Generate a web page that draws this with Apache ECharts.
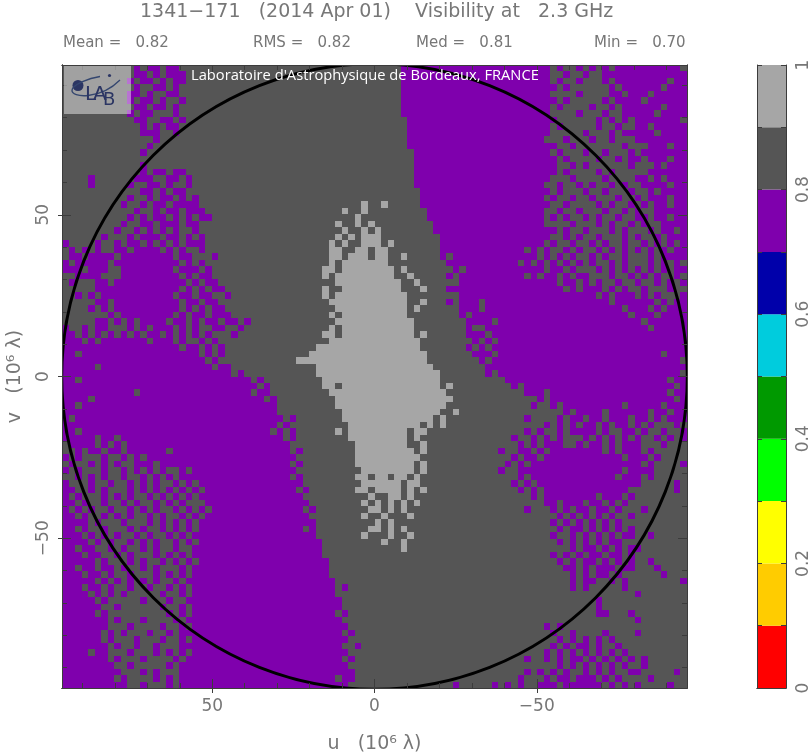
<!DOCTYPE html>
<html>
<head>
<meta charset="utf-8">
<style>html,body{margin:0;padding:0;background:#fff}#c{width:810px;height:756px}</style>
<script src="https://cdn.jsdelivr.net/npm/echarts@6/dist/echarts.min.js"></script>
</head>
<body>
<div id="c"></div>
<script>
// Visibility class per cell: p = 0.7-0.8, d = 0.8-0.9, l = 0.9-1
const visibilityRows = [
"dddddddd dddpdppd ppdddddd dddddddd dddddddd dddddddd ddddpppp pppppppp pppppppp pppdpddp dpdpdppp pppppppd",
"dddddddd dddppdpd pppddddd dddddddd dddddddd dddddddd ddddpppp pppppppp pppppppp pppddpdd pddppppp pppppppp",
"dddddddd ddpdppdp dppddddd dddddddd dddddddd dddddddd ddddpppp pppppppp pppppppp pppdpddp dddpdppp pppppdpp",
"dddddddd dddpddpp dpdddddd dddddddd dddddddd dddddddd ddddpppp pppppppp pppppppp ppppdpdd ddddpdpp ppppdppp",
"dddddddd ddppdpdd ppdddddd dddddddd dddddddd dddddddd ddddpppp pppppppp pppppppp pppddddp ddddppdp ppdppppp",
"dddddddd ddpdppdp ddpddddd dddddddd dddddddd dddddddd ddddpppp pppppppp pppppppp ppppdpdd dddpdppp pdpppppp",
"dddddddd dddppdpp dpdddddd dddddddd dddddddd dddddddd ddddpppp pppppppp pppppppp pppdpddd dpddpdpp ppppdppp",
"dddddddd ddpdppdd dpdddddd dddddddd dddddddd dddddddd ddddpppp pppppppp pppppppp pppddddp dddpddpp pppdpppp",
"dddddddd dddppddp pdpddddd dddddddd dddddddd dddddddd dddddppp pppppppp pppppppp ppppdddd ddpdpdpd pppppppd",
"dddddddd ddddpdpd ppdddddd dddddddd dddddddd dddddddd dddddppp pppppppp pppppppp pppdpddd ddpddpdd ppdppppp",
"dddddddd ddddpppd dpdddddd dddddddd dddddddd dddddddd dddddppp pppppppp pppppppp pppddddd pdddpdpp pppdpppp",
"dddddddd ddddddpd dddddddd dddddddd dddddddd dddddddd dddddppp pppppppp pppppppp ppdddpdd dpddpddd pppppppp",
"dddddddd dddddpdd dddddddd dddddddd dddddddd dddddddd dddddppp pppppppp pppppppp ppppddpd ddddddpd ddpppdpp",
"dddddddd ddddpddd dddddddd dddddddd dddddddd dddddddd ddddddpp pppppppp pppppppp pppdpddd pddpdddp dppppppp",
"dddddddd dddddddd dddddddd dddddddd dddddddd dddddddd ddddddpp pppppppp pppppppp ppppdpdd ddpddpdp pdpppdpp",
"dddddddd ddddpddd dddddddd dddddddd dddddddd dddddddd ddddddpp pppppppp pppppppp ppppddpd pddddddp dddpdppp",
"dddddddd ddddpdpp dppddddd dddddddd dddddddd dddddddd ddddddpp pppppppp pppppppp ppppdpdd ddpdpddd ddpppppp",
"ddddpddd dddpppdd ppdpdddd dddddddd dddddddd dddddddd ddddddpp pppppppp pppppppp pppdddpd dddpdddd ppdpdppp",
"ddddpddd ddpddppd pddpdddd dddddddd dddddddd dddddddd ddddddpp pppppppp pppppppp ppddpddp dpddpdpd dppppdpp",
"dddddddd ddddppdp dppddddd dddddddd dddddddd dddddddd dddddddp pppppppp pppppppp pppdpddd pddpdddp ddpdpppp",
"dddddddd ddpddpdp pdpdpddd dddddddd dddddddd dddddddd dddddddp pppppppp pppppppp ppdpddpd dpdddpdd pdpppdpp",
"dddddddd dpddpdpp dppppddd dddddddd dddddddd ddddddld dldddddp pppppppp pppppppp pppddpdd ddpdpddp dpdppdpp",
"dddddddd dddpddpd ppdpppdd dddddddd dddddddd dddlddld dddddddd pppppppp pppppppp ppddpddp dddpddpd pddppppp",
"dddddddd ddpdpdpp dpdpdppd dddddddd dddddddd dddddldd dddddddd pppppppp pppppppp ppdpdpdd pdpddpdd ppdppdpp",
"dddddddd dpddppdp ppdppddd dddddddd dddddddd ddlddldl dddddddd dppppppp pppppppp ppddddpd ddpdpddp dpddpppp",
"dddddddd pddpdpdp dpddpddd dddddddd dddddddd dddlddld lddddddd dppppppp pppppppp ppppdpdd pdddpdpd ddpdppdp",
"ddddddpd ddpdpppd ppdpdpdd dddddddd dddddddd ddldldll lddddddd ddpppppp pppppppp pppddpdp ddpdddpd pddpdppp",
"pddddpdd pdppdpdp dpdpppdd dddddddd dddddddd dldlddll ldlddddd ddpppppp pppppppp ppdpddpd dpdpddpd dpdpdpdp",
"dpdpdpdd ppdppppd pdpddpdd dddddddd dddddddd dllddlld lldddddd ddpppppp pppppppd pdpddpdp ddpdpdpd pdpdpdpp",
"dppdpppp dppppppp pdppdddp dddddddd dddddddd dlldllld llddlddd ddpdpppp pppppppp pdpdpdpd dpdpddpd ddpdpppp",
"pdpppppd pppppppp ppdpdpdd dddddddd dddddddd dldlllll lldddddd dddppppp ppppppdp dpdpdpdp dpddpdpd ddpdpdpd",
"pppdpppd dppppppp pdpppdpd dddddddd dddddddd lldlllll llldlddd ddddpdpp pppppppp ppdppdpd ddpdpdpd pdpdpdpp",
"ddppppdd dppppppp ppdpdppd dddddddd dddddddd ldllllll lllddldd dddpdppp pppppppd pdppdpdp pdddpddp dpdpddpd",
"dpdddppd pppppppp pppdpdpp dddddddd dddddddd ddllllll llllddld dddddppp pppppppp ppppdppd pdpddpdd pddpdpdp",
"dddddppp pppppppp ppdpdpdp pddddddd dddddddd lddlllll lllldddl dddppppp pppppppp pppppdpd pppdpdpd dpdddpdd",
"ddpdpdpp pppppppp pdppdppd dpdddddd dddddddd ldllllll lllllddd dddddppp pppppppp pppppppp ppdpdppp dpdpdddp",
"dddddppd pppppppp ppdppdpp dddddddd dddddddd dlllllll lllllddl dddpdppp dppppppp pppppppp ppppdppp pppdpdpp",
"ddddpdpd pppppppp ppdpdpdp pddddddd dddddddd ddllllll llllldld dddddppp dppppppp pppppppp ppppppdp ppdpdppp",
"dddddddp dppppppp pdpdppdp ppdddddd dddddddd dldlllll lllllddd dddddpdp pppppppp pppppppp pppppppd pppdpppp",
"dddddppd pdpdpppp dppdpdpp dppdpddd dddddddd ddllllll lllllldd ddddddpp ppdppppp pppppppp pppppppp pdpppppp",
"pddpdppd ddpdpdpp pdpdpddp pddpdddd dddddddd dldlllll lllllldd ddddddpd dppppppp pppppppp pppppppp ppdppppp",
"ppdpdpdp dpdpdppd pdpdpdpd ddpddddd dddddddd lldlllll lllllldl ddddddpp pdpppppp pppppppp pppppppp pppppppp",
"pppdpdpp pppppdpp pdpddpdp dddddddd dddddddd dlllllll llllllld dddddddp dpdppppp pppppppp pppppppp pppppppp",
"pppppppp pppppppp ppdppdpd pddddddd dddddddl llllllll llllllld ddddddpd pdpppppp pppppppp pppppppp pppppppp",
"ppdppppp pppppppp pppppdpd pddddddd ddddddll llllllll llllllll dddddddp ppdppppp pppppppp pppppppp ppppdppp",
"pppppppp pppppppp ppppppdp dddddddd ddddllll llllllll llllllll dddddddd pdpppppp pppppppp pppppppp pppppppd",
"pppppdpp pppppppp pppppppd ppdddddd dddddddl llllllll llllllll lddddddd dppppppp pppppppp pppppppp pppppppp",
"pppppppp pppppppp pppppppp ppdpdddd dddddddl llllllll llllllll lldddddd dpdppppp pppppppp pppppppp pppppppd",
"ppdppppp pppppppp pppppppp pppppdpd dddddddd llllllll llllllll lldddddd ddddpppp pppppppp pppppppp pppppdpp",
"pppppppp pppppppp pppppppp ppppppdp dddddddd lldlllll llllllll lldldddd dddddpdp pppppppp pppppppp ppppppdp",
"pppppppp pppdpppp pppppppp pppppdpp dddddddd dlllllll llllllll lllddddd dddddddp ppdppppp pppppppp pppppdpp",
"ppppdppp pppppppp pppppppp pppppppd pddddddd ddllllll llllllll lllldddd dddddddd dpdppppp pppppppp ppppppdp",
"ppdppppp pppppppp pppppppp pppppppp pddddddd ddllllll llllllll lllddddd dddddddd pddpdppp ppppppdp ppppdppp",
"pppppppp pppppppp pppppppp pppppppp pddddddd dddlllll llllllll llddlddd dddddddd dddddpdp pppdpppp ppdppdpp",
"pdpppppp pppppppp pppppppp pppppppp ppdpdddd dddlllll llllllll ldlddddd dddddddp ddddpdpp dppdpppd ppdpdppp",
"pppppppp pppppppp pppppppp pppppppp pdpddddd ddddllll llllllld ldlddddd dddddddd ddpdpdpd ppdpdppd pdpdddpd",
"ppdppppp pppppppp pppppppp pppppppp dpdpdddd ddldllll llllldll dddddddd dddddddp dpddpdpp ppdpddpp dpddpddp",
"pppppdpp dppppppp pppppppp pppppppp ppdpdddd ddddllll llllldld dddddddd dddddpdd pdpdpddd pdpdpdpd pddpdpdp",
"dppppdpd pdpppppp pppppppp pppppppp pppddddd dddddlll lllllddl dddddddd ddddddpd pdpppddp dppdpdpp pdddpddd",
"ddpdppdp pdpppppp dppppppp pppppppp pppdpddd dddddlll lllllldl dddddddd dddpddpp dpdppppp pppdpdpp pdpddddd",
"pdpdddpd dpdpdppp pppppppp pppppppp ppppdddd dddddlll llllllld dddddddd dddddpdp pdpppppp ppppppdp ppdpdddd",
"dpddpdpd pddpppdp pppppppp pppppppp pppdpddd dddddlll lllllldl dddddddd ddddpdpd pppppppp pppppppp pdpddddp",
"pdpdddpd dpdpdpdp ddpdpppp pppppppp ppppdddd ddddddll lllllldl dddddddd dddpddpp pppppppp ppppppdp pppddddd",
"ddpdpdpd dpddpdpd pdpppppp pppppppp pppdpddd dddddlld lldlldld dddddddd ddddddpd pppppppp pppppdpp pdpddddd",
"pdddpddp ddpdpdpd dpdpdppp pppppppp pppppddd ddddddll lllldlld dddddddd dddddpdp dppppppp pppppppp pdddddpd",
"ppddpdpd ddpdpdpd pdpdpdpp pppppppp ppppdpdd dddddlld lllldldl dddddddd ddddddpd pdpppppp pppppppd ddddddpd",
"pdpdddpd pdpddpdp dpdpdppp pppppppp pppppddd dddddddl ddlldldd dddddddd dddddddd pdpppppp ppdpppdp dddddddd",
"ppdpddpd dpdpddpd pdpdddpp pppppppp ppppppdd ddddddld ldldldld dddddddd dddddddd ddppdppp dppdpdpd dddddddd",
"pdpdpddp ddpdpdpd dpdpdpdp pppppppp pppppdpd dddddddl ldldlddd dddddddd dddddddp dddpdpdp pdppdpdd dpdddddd",
"ppdpddpd pdpddpdp ddpdpdpp pppppppp ppppppdd ddddddld dldddldd dddddddd dddddddd ddddpdpd pdpdpddp dddddddd",
"ppppdpdd dpdddpdp dpdpdppp pppppppp pppppppd dddddddd ldlddddd dddddddd dddddddd dddpdpdp dpdpdpdd dddddddd",
"ppdpddpd ddpdpddp dpdpdppp pppppppp pppppdpd dddddddl ldldlddd dddddddd dddddddd ddddpdpp dpdpdpdp dddddddd",
"pppdpdpd pddpdpdd pdpdpppp pppppppp pppppppd ddddddld ddlddldd dddddddd dddddddd dddpddpd pdpdpdpp ddpddddd",
"ppppdpdp ddpdpdpd dpdpdppp pppppppp pppppppp dddddddd dlddlddd dddddddd dddddddd ddddpdpd pdpdppdd dddddddd",
"ppdppddp dpddpdpd dpddpppp pppppppp pppppppp dddddddd ddddlddd dddddddd dddddddd ddddddpd ppdpdpdp pddddddd",
"pppdppdd pdpdddpd pdpdpppp pppppppp pppppppp dddddddd dddddddd dddddddd dddddddd dddpdpdp dppdppdp dddddddd",
"pppppdpd ddpdpddp dpdpdppp pppppppp pppppppp pddddddd dddddddd dddddddd dddddddd ddddpdpd ppdpdpdp ddpddddd",
"ppdppdpp dpddpdpd ddpdpppp pppppppp pppppppp pddddddd dddddddd dddddddd dddddddd dddddppd pdpppdpp dddpdddd",
"pppdppdp ddpdddpd pdpdpppp pppppppp pppppppp pddddddd dddddddd dddddddd dddddddd ddddddpd pdppdpdd ddddpddd",
"pppppdpd pdpdpdpd dpdppppp pppppppp pppppppp ppdddddd dddddddd dddddddd dddddddd ddddddpd ppddpdpd dddddddp",
"pppdppdp ddpddpdd pdpdpppp pppppppp pppppppp ppdpdddd dddddddd dddddddd dddddddd ddddddpd pdddddpd dddddddd",
"ppppdpdp dpdddddp ddpdpppp pppppppp pppppppp ppdddddd dddddddd dddddddd dddddddd dddddddd dddddddd pddddddd",
"pppppdpd ddddpddd pddppppp pppppppp pppppppp pppddddd dddddddd dddddddd dddddddd dddddddd ddpddddd dddddddd",
"ppppppdd pddddddp ddpdpppp pppppppp pppppppp pppddddd dddddddd dddddddd dddddddd dddddddd ddpddddd dddddddd",
"pppppdpd dddddddd pdpdpppp pppppppp pppppppp ppdpdddd dddddddd dddddddd dddddddd dddddddd ddppdddp dddddddd",
"pppppppd pdddpddd dpdppppp pppppppp pppppppp pppddddd dddddddd dddddddd dddddddd dddddddd dddddddd pddddddd",
"pppppppd ddpddddp ddpdpppp pppppppp pppppppp ppppdddd dddddddd dddddddd dddddddd ddpdpddd dddddddd dddddddd",
"ppppppdp dpdddpdd pdpppppp pppppppp pppppppp pppdpddd dddddddd dddddddd dddddddd dddpddpd dddpdddd pddddddd",
"ppppppdp dddpdddp ddpdpppp pppppppp pppppppp ppppdddd dddddddd dddddddd dddddddd ddddpdpd pdpdpddd dddddddd",
"pppppppd pddpddpd ddpppppp pppppppp pppppppp pppddpdd dddddddd dddddddd dddddddd dddpdpdp pdpddpdd dddddddd",
"ppppdppd ddpdddpd pdpdpppp pppppppp pppppppp ppppdddd dddddddd dddddddd dddddddd ddpdpdpd pdpdpdpd dddddddd",
"pppppppd pdddpddd dpdppppp pppppppp pppppppp pppdpddd dddddddd dddddddd dddddddp ddpdpdpp dpdpdpdp dpdddddd",
"pppppppp ddpddddd pdpppppp pppppppp pppppppp ppppdddd dddddddd dddddddd dddddddd ddddpdpd pdpdpdpd dpdddddd",
"pppppppp pdddpdpd ddpppppp pppppppp pppppppp pppppddd dddddddd dddddddd dddddddp dpdpdpdd pdpdpddp pdddddpd",
"pppppppp dpddddpd pdpppppp pppppppp pppppppp ppdppddd dddddddd dddddddd ddddddpd ddpdppdp ppdpdpdd ddpddddd",
"pppppppp ppddpddd pdpppppp pppppppp pppppppp ppppdddd dddddddd ddddpddd ddpdpdpd dpppdppp pppdpdpd pddddpdd"
];
const classValues = { p: 0.75, d: 0.85, l: 0.95 };
const axisExtent = 96.3;
const majorTicks = [-50, 0, 50];
const minorTicks = [-90,-80,-70,-60,-40,-30,-20,-10,10,20,30,40,60,70,80,90];
const circleRadius = [96.4];
const barValues = [0.1,0.1,0.1,0.1,0.1,0.1,0.1,0.1,0.1,0.1];
const barColors = ['#ff0000','#ffcc00','#ffff00','#00ff00','#009900','#00ccdd','#0000aa','#7f00ad','#555555','#a6a6a6'];
const barLabels = [0,0.2,0.4,0.6,0.8,1];
const barTicks = [0,0.1,0.2,0.3,0.4,0.5,0.6,0.7,0.8,0.9,1];
const titleText = '1341\u2212171   (2014 Apr 01)    Visibility at   2.3 GHz';
const statTexts = [['Mean =   0.82',63],['RMS =   0.82',253],['Med =   0.81',416],['Min =   0.70',594]];
const labTitle = "Laboratoire d'Astrophysique de Bordeaux, FRANCE";

const cols = 96, cell = 2 * axisExtent / cols;
const cells = [];
visibilityRows.forEach(function (raw, r) {
  const s = raw.replace(/\s/g, '').padEnd(cols, 'd').slice(0, cols);
  let start = 0;
  for (let c = 1; c <= cols; c++) {
    if (c === cols || s[c] !== s[start]) {
      cells.push([axisExtent - start * cell, axisExtent - c * cell,
                  axisExtent - r * cell, axisExtent - (r + 1) * cell, classValues[s[start]]]);
      start = c;
    }
  }
});

const ink = '#777777', line = '#3c3c3c';
const thin = '"DejaVu Sans"';
function mainAxis(position, ticks, inside, len, labels, extra) {
  const o = {
    gridIndex: 0, type: 'value', position: position, min: -axisExtent, max: axisExtent,
    inverse: position === 'top' || position === 'bottom', z: 10,
    splitLine: { show: false }, minorTick: { show: false },
    axisLine: { show: true, onZero: false, lineStyle: { color: line, width: 1 } },
    axisTick: { show: true, inside: inside, length: len, customValues: ticks, lineStyle: { color: line, width: 1 } },
    axisLabel: labels ? {
      show: true, customValues: majorTicks, color: ink, fontFamily: thin, fontSize: 17,
      margin: 10, rotate: (position === 'left') ? 90 : 0,
      formatter: function (v) { return String(v).replace('-', '\u2212'); }
    } : { show: false }
  };
  return Object.assign(o, extra || {});
}
const nameStyle = { color: ink, fontFamily: thin, fontSize: 19 };
const xAxes = [
  mainAxis('bottom', majorTicks, true, 9, true, { name: 'u   (10\u2076 \u03bb)', nameLocation: 'middle', nameGap: 47, nameTextStyle: nameStyle }),
  mainAxis('bottom', minorTicks, true, 5, false),
  mainAxis('bottom', majorTicks, false, 5, false),
  mainAxis('top', majorTicks, true, 9, false),
  mainAxis('top', minorTicks, true, 5, false)
];
const yAxes = [
  mainAxis('left', majorTicks, true, 9, true, { name: 'v   (10\u2076 \u03bb)', nameLocation: 'middle', nameGap: 37, nameRotate: 90, nameTextStyle: nameStyle }),
  mainAxis('left', minorTicks, true, 5, false),
  mainAxis('left', majorTicks, false, 4, false),
  mainAxis('right', majorTicks, true, 9, false),
  mainAxis('right', minorTicks, true, 5, false)
];
xAxes.push({ gridIndex: 1, type: 'category', data: ['scale'], position: 'bottom', axisTick: { show: false }, axisLabel: { show: false }, axisLine: { show: true, lineStyle: { color: line } } });
xAxes.push({ gridIndex: 1, type: 'category', data: ['scale'], position: 'top', axisTick: { show: false }, axisLabel: { show: false }, axisLine: { show: true, lineStyle: { color: line } } });
function barAxis(position, labels) {
  return {
    gridIndex: 1, type: 'value', min: 0, max: 1, position: position, z: 10,
    splitLine: { show: false },
    axisLine: { show: true, lineStyle: { color: line } },
    axisTick: { show: true, inside: true, length: 5, customValues: barTicks, lineStyle: { color: line } },
    axisLabel: labels ? { show: true, customValues: barLabels, rotate: 90, margin: 9, color: ink, fontFamily: thin, fontSize: 17 } : { show: false }
  };
}
yAxes.push(barAxis('right', true));
yAxes.push(barAxis('left', false));

const series = [
  {
    type: 'custom', xAxisIndex: 0, yAxisIndex: 0, data: cells, animation: false, progressive: 0, silent: true, z: 2,
    encode: { x: [0, 1], y: [2, 3] }, clip: true,
    renderItem: function (params, api) {
      const a = api.coord([api.value(0), api.value(2)]);
      const b = api.coord([api.value(1), api.value(3)]);
      const v = api.value(4);
      const x0 = Math.round(a[0]), y0 = Math.round(a[1]), x1 = Math.round(b[0]), y1 = Math.round(b[1]);
      return { type: 'rect', shape: { x: x0, y: y0, width: x1 - x0, height: y1 - y0 },
        style: { fill: barColors[Math.floor(v * 10)] } };
    }
  },
  {
    type: 'custom', xAxisIndex: 0, yAxisIndex: 0, data: circleRadius.map(function (r) { return [0, 0, r]; }),
    animation: false, silent: true, z: 5, clip: true, encode: { x: 0, y: 1 },
    renderItem: function (params, api) {
      const c = api.coord([api.value(0), api.value(1)]);
      const e = api.coord([api.value(2), 0]);
      return { type: 'circle', shape: { cx: c[0], cy: c[1], r: Math.abs(e[0] - c[0]) },
        style: { fill: 'none', stroke: '#000', lineWidth: 3 } };
    }
  }
];
barValues.forEach(function (v, i) {
  series.push({ type: 'bar', xAxisIndex: 5, yAxisIndex: 5, stack: 'scale', data: [v], barWidth: '100%', animation: false, silent: true, itemStyle: { color: barColors[i] } });
});

const navy = '#2b3563';
const graphic = [
  { type: 'rect', silent: true, z: 100, shape: { x: 64, y: 66, width: 67, height: 48 }, style: { fill: 'rgba(255,255,255,0.45)' } },
  { type: 'circle', silent: true, z: 101, shape: { cx: 78, cy: 85.5, r: 5.5 }, style: { fill: navy } },
  { type: 'circle', silent: true, z: 101, shape: { cx: 109.5, cy: 75.5, r: 1.6 }, style: { fill: navy } },
  { type: 'bezierCurve', silent: true, z: 101, shape: { x1: 100, y1: 76.5, cpx1: 88, cpy1: 78, cpx2: 73, cpy2: 85, x2: 72, y2: 90 }, style: { fill: 'none', stroke: '#34466f', lineWidth: 1.3 } },
  { type: 'bezierCurve', silent: true, z: 101, shape: { x1: 72, y1: 90, cpx1: 71, cpy1: 98, cpx2: 100, cpy2: 100, x2: 120, y2: 80 }, style: { fill: 'none', stroke: '#34466f', lineWidth: 1.3 } },
  { type: 'text', silent: true, z: 102, x: 85, y: 85, style: { text: 'L', fill: navy, fontSize: 20, fontFamily: thin } },
  { type: 'text', silent: true, z: 102, x: 93, y: 85, style: { text: 'A', fill: navy, fontSize: 20, fontFamily: thin } },
  { type: 'text', silent: true, z: 102, x: 103, y: 91, style: { text: 'B', fill: navy, fontSize: 18, fontFamily: thin } },
  { type: 'text', silent: true, z: 102, x: 191, y: 68, style: { text: labTitle, fill: '#fff', fontSize: 14.7, fontFamily: '"Open Sans"' } }
];
statTexts.forEach(function (t) {
  graphic.push({ type: 'text', silent: true, z: 102, x: t[1], y: 36, style: { text: t[0], fill: ink, fontSize: 15, fontFamily: thin } });
});

const chart = echarts.init(document.getElementById('c'), null, { renderer: 'canvas', width: 810, height: 756 });
chart.setOption({
  animation: false,
  backgroundColor: '#fff',
  title: { text: titleText, left: 135, top: -2, textStyle: { color: ink, fontFamily: thin, fontWeight: 'normal', fontSize: 19 } },
  grid: [
    { left: 62, top: 65, width: 625, height: 623, containLabel: false, outerBoundsMode: 'none' },
    { left: 757, top: 65, width: 29, height: 623, containLabel: false, outerBoundsMode: 'none' }
  ],
  xAxis: xAxes,
  yAxis: yAxes,
  series: series,
  graphic: graphic
});
</script>
</body>
</html>
